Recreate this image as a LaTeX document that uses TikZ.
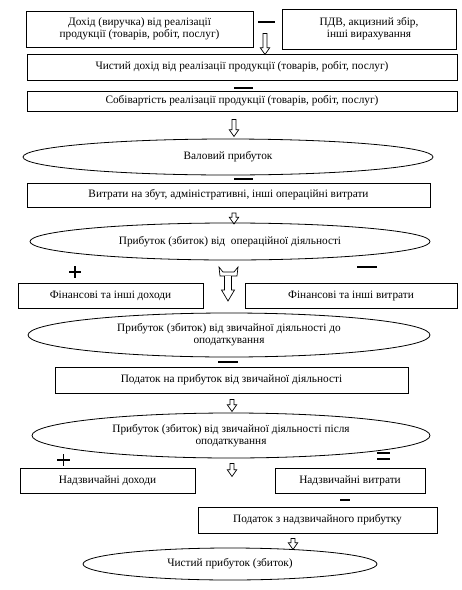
\documentclass[tikz,border=0pt]{standalone}
\usepackage{fontspec}
\setmainfont{Liberation Serif}
\usetikzlibrary{shapes.geometric,shapes.arrows}

\begin{document}
\begin{tikzpicture}[x=1pt,y=-1pt,
    box/.style={draw,line width=0.9pt,inner sep=0pt,align=center,
      font=\fontsize{11.3}{12}\selectfont},
    oval/.style={ellipse,draw,line width=0.8pt,inner sep=0pt,align=center,
      font=\fontsize{11.3}{12}\selectfont},
    downarrow/.style={single arrow,draw,line width=0.7pt,shape border rotate=270,
      inner sep=1.7pt,single arrow head extend=2.6pt,single arrow tip angle=70,
      minimum height=#1},
    sign/.style={line width=1.3pt}]
    \fill[white] (0,0) rectangle (462,590);
    % blocks
    \node[box,minimum width=227pt,minimum height=36pt] (revenue) at (139.5,29)
      {Дохід (виручка) від реалізації\\продукції (товарів, робіт, послуг)};
    \node[box,minimum width=174pt,minimum height=40pt] (vat) at (369,29)
      {ПДВ, акцизний збір,\\інші вирахування};
    \node[box,minimum width=430pt,minimum height=26pt] (netrev) at (242,67)
      {Чистий дохід від реалізації продукції (товарів, робіт, послуг)};
    \node[box,minimum width=430pt,minimum height=20pt] (cost) at (242,101)
      {Собівартість реалізації продукції (товарів, робіт, послуг)};
    \node[oval,minimum width=410pt,minimum height=36pt] (gross) at (228,157)
      {Валовий прибуток};
    \node[box,minimum width=403pt,minimum height=24pt] (opex) at (228.5,195)
      {Витрати на збут, адміністративні, інші операційні витрати};
    \node[oval,minimum width=400pt,minimum height=37pt] (opprofit) at (230,241.5)
      {Прибуток (збиток) від\ \ операційної діяльності};
    \node[box,minimum width=185pt,minimum height=25pt] (fininc) at (110.5,295.5)
      {Фінансові та інші доходи};
    \node[box,minimum width=212pt,minimum height=25pt] (finexp) at (351,295.5)
      {Фінансові та інші витрати};
    \node[oval,minimum width=402pt,minimum height=44pt] (pretax) at (229,335)
      {Прибуток (збиток) від звичайної діяльності до\\оподаткування};
    \node[box,minimum width=353pt,minimum height=26pt] (tax) at (231.5,380)
      {Податок на прибуток від звичайної діяльності};
    \node[oval,minimum width=398pt,minimum height=45pt] (aftertax) at (231,435.5)
      {Прибуток (збиток) від звичайної діяльності після\\оподаткування};
    \node[box,minimum width=175pt,minimum height=25pt] (extrainc) at (107.5,480.5)
      {Надзвичайні доходи};
    \node[box,minimum width=150pt,minimum height=25pt] (extraexp) at (350,480.5)
      {Надзвичайні витрати};
    \node[box,minimum width=239pt,minimum height=26pt] (extratax) at (317.5,520)
      {Податок з надзвичайного прибутку};
    \node[oval,minimum width=294pt,minimum height=32pt] (netprofit) at (230,564)
      {Чистий прибуток (збиток)};
    % hollow arrows
    \node[downarrow=21] (arr1) at (265,42.5) {};
    \node[downarrow=17] (arr2) at (234,126.5) {};
    \node[downarrow=11] (arr3) at (234,217) {};
    \node[downarrow=12] (arr4) at (232,404) {};
    \node[downarrow=13] (arr5) at (232,468.5) {};
    \node[downarrow=11] (arr6) at (293,542.5) {};
    % merging arrow
    \draw[line width=0.7pt,fill=white]
      (219,267) -- (220,276) -- (237,276) -- (238,267) -- (234,272) -- (223,272) -- cycle;
    \draw[line width=0.7pt,fill=white]
      (224.5,276) -- (224.5,290) -- (221.5,290) -- (228,301) -- (234.5,290)
      -- (231.5,290) -- (231.5,276);
    % signs
    \foreach \x/\y/\w in {258/22/17, 234/88/19, 234/179/19, 357/267/20, 218/362/20, 340/500/10}
      \draw[sign] (\x,\y) -- ++(\w,0);
    \draw[sign] (69,272) -- ++(12,0) (75,266) -- ++(0,12);
    \draw[sign] (57,460) -- ++(13,0) (63.5,454) -- ++(0,12);
    \draw[sign] (377,453) -- ++(13,0) (377,459) -- ++(13,0);
\end{tikzpicture}
\end{document}
